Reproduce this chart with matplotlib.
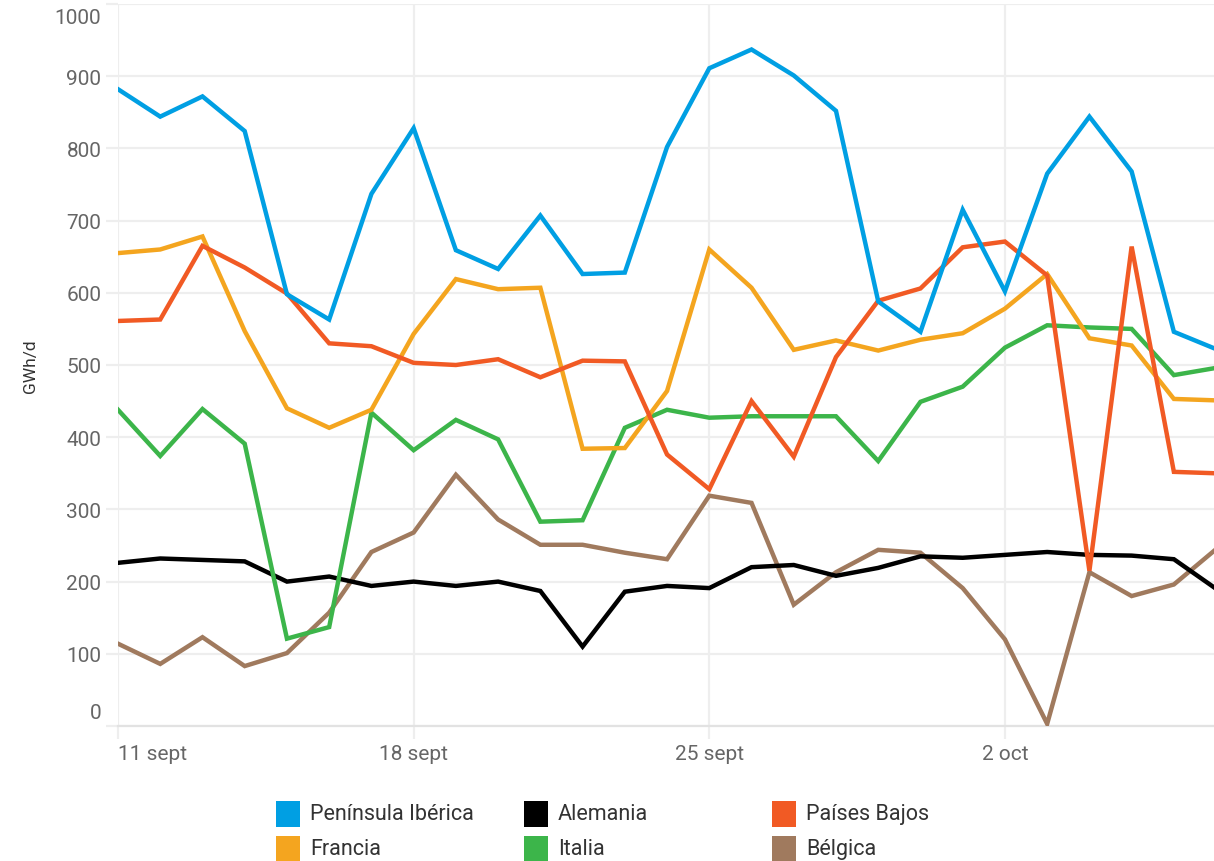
import matplotlib.pyplot as plt
import matplotlib.transforms as mtransforms
from matplotlib.patches import Rectangle
import numpy as np

plt.rcParams['font.family'] = ['Roboto', 'DejaVu Sans']

# Días desde el 11 sept
dias = np.arange(27)
xtick_pos = [0, 7, 14, 21]
xtick_labels = ['11 sept', '18 sept', '25 sept', '2 oct']

peninsula = [882, 844, 872, 824, 598, 563, 737, 828, 659, 633, 707, 626, 628, 802,
             911, 937, 901, 852, 588, 546, 715, 602, 765, 844, 768, 546, 522]
francia = [655, 660, 678, 547, 440, 413, 438, 543, 619, 605, 607, 384, 385, 464,
           660, 607, 521, 534, 520, 535, 544, 578, 626, 537, 527, 453, 451]
paises_bajos = [561, 563, 665, 635, 599, 530, 526, 503, 500, 508, 483, 506, 505, 376,
                328, 450, 373, 511, 589, 606, 663, 671, 624, 215, 664, 352, 350]
italia = [438, 374, 439, 391, 121, 137, 434, 382, 424, 397, 283, 285, 413, 438,
          427, 429, 429, 429, 367, 449, 470, 524, 555, 552, 550, 486, 496]
alemania = [226, 232, 230, 228, 200, 207, 194, 200, 194, 200, 187, 110, 186, 194,
            191, 220, 223, 208, 219, 235, 233, 237, 241, 237, 236, 231, 190]
belgica = [114, 86, 123, 83, 101, 157, 241, 268, 348, 286, 251, 251, 240, 231,
           319, 309, 168, 213, 244, 240, 191, 120, 3, 213, 180, 196, 245]

series = [
    ('Península Ibérica', peninsula, '#009FE3'),
    ('Francia', francia, '#F4A51F'),
    ('Alemania', alemania, '#000000'),
    ('Italia', italia, '#3CB54A'),
    ('Países Bajos', paises_bajos, '#F15A24'),
    ('Bélgica', belgica, '#A07A5E'),
]

fig = plt.figure(figsize=(12.14, 8.62), dpi=100)
ax = fig.add_axes([118 / 1214, 1 - 727 / 862, 1 - 118 / 1214, (727 - 5) / 862])

# orden de dibujo
for idx in [5, 2, 3, 1, 4, 0]:
    nombre, vals, color = series[idx]
    ax.plot(dias, vals, color=color, lw=3.2, solid_joinstyle='miter', zorder=3)

ax.set_xlim(0, 25.95)
ax.set_ylim(0, 1000)
ax.set_yticks(np.arange(0, 1001, 100))
ax.set_xticks(xtick_pos)
ax.set_xticklabels(xtick_labels)
ax.grid(True, color='#EEEEEE', lw=1.6, zorder=0)
for s in ['top', 'right', 'left']:
    ax.spines[s].set_visible(False)
ax.spines['bottom'].set_color('#E2E2E2')
ax.spines['bottom'].set_linewidth(1.6)
ax.tick_params(axis='both', colors='#EEEEEE', labelcolor='#666666',
               labelsize=15, length=9, width=1.6)
ax.tick_params(axis='y', pad=3)
ax.tick_params(axis='x', pad=4)

yticks = ax.yaxis.get_major_ticks()
yticks[0].label1.set_verticalalignment('bottom')
yticks[-1].label1.set_verticalalignment('top')
yticks[0].label1.set_transform(yticks[0].label1.get_transform() +
                               mtransforms.ScaledTranslation(0, 4 / 100, fig.dpi_scale_trans))
yticks[-1].label1.set_transform(yticks[-1].label1.get_transform() +
                                mtransforms.ScaledTranslation(0, -4 / 100, fig.dpi_scale_trans))
ax.xaxis.get_major_ticks()[0].label1.set_horizontalalignment('left')

ax.set_ylabel('GWh/d', fontsize=12.5, color='#333333')
ax.yaxis.set_label_coords(-0.073, 0.5)

# leyenda manual en 3 columnas
leg_order = [0, 2, 4, 1, 3, 5]
col_x = [276, 524, 772]
row_y = [815, 850]
for k, idx in enumerate(leg_order):
    nombre, vals, color = series[idx]
    cx = col_x[k % 3]
    cy = row_y[k // 3]
    fig.add_artist(Rectangle((cx / 1214, 1 - (cy + 13) / 862), 24 / 1214, 26 / 862,
                             transform=fig.transFigure, color=color, lw=0))
    fig.text((cx + 34) / 1214, 1 - cy / 862, nombre, fontsize=15.5, color='#333333',
             va='center', ha='left')

fig.savefig('out.png', dpi=100)
